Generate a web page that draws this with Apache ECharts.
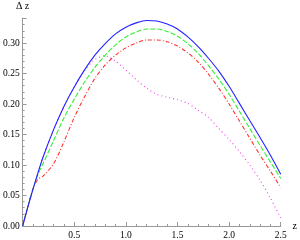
<!DOCTYPE html>
<html>
<head>
<meta charset="utf-8">
<script src="https://cdn.jsdelivr.net/npm/echarts@6/dist/echarts.min.js"></script>
<style>html,body{margin:0;padding:0;background:#fff}#c{width:300px;height:240px}</style>
</head>
<body>
<div id="c"></div>
<script>
var zVals   = [0, 0.05, 0.1, 0.15, 0.2, 0.3, 0.4, 0.5, 0.6, 0.7, 0.8, 0.9, 1.0, 1.1, 1.2, 1.3, 1.4, 1.5, 1.6, 1.7, 1.8, 1.9, 2.0, 2.1, 2.2, 2.3, 2.4, 2.5];
var blue    = [0, 0.031, 0.060, 0.088, 0.114, 0.158, 0.196, 0.228, 0.256, 0.280, 0.299, 0.315, 0.326, 0.333, 0.337, 0.336, 0.331, 0.323, 0.310, 0.294, 0.275, 0.254, 0.229, 0.201, 0.173, 0.145, 0.116, 0.085];
var green   = [0, 0.031, 0.060, 0.085, 0.103, 0.140, 0.177, 0.208, 0.236, 0.260, 0.280, 0.297, 0.310, 0.318, 0.323, 0.323, 0.319, 0.311, 0.299, 0.283, 0.263, 0.241, 0.216, 0.188, 0.160, 0.132, 0.105, 0.078];
var red     = [0, 0.031, 0.061, 0.077, 0.082, 0.102, 0.138, 0.178, 0.212, 0.242, 0.264, 0.280, 0.292, 0.300, 0.305, 0.305, 0.302, 0.295, 0.284, 0.269, 0.249, 0.226, 0.200, 0.172, 0.144, 0.116, 0.090, 0.063];
var magenta = [0, 0.031, 0.060, 0.088, 0.114, 0.158, 0.196, 0.228, 0.255, 0.273, 0.279, 0.270, 0.256, 0.240, 0.226, 0.216, 0.211, 0.207, 0.201, 0.190, 0.178, 0.160, 0.142, 0.122, 0.100, 0.075, 0.046, 0.013];
var xTickLabels = ['0.5', '1.0', '1.5', '2.0', '2.5'];
var yTickLabels = ['0.00', '0.05', '0.10', '0.15', '0.20', '0.25', '0.30'];

function pairs(arr){ return zVals.map(function(z,i){ return [z, arr[i]]; }); }
var font = 'Liberation Serif';
var chart = echarts.init(document.getElementById('c'), null, {renderer:'canvas'});
function mk(name, arr, color, type){
  return {name:name, type:'line', data:pairs(arr), showSymbol:false, smooth:0.3,
    lineStyle:{color:color, width:1.1, type:type}, animation:false, z:2};
}
chart.setOption({
  animation:false,
  grid:{left:19, right:12.5, top:18, bottom:13},
  xAxis:{type:'value', min:0, max:2.5, interval:0.5,
    name:'z', nameLocation:'end', nameGap:5,
    nameTextStyle:{fontFamily:font, fontSize:10, color:'#000', verticalAlign:'middle'},
    axisLine:{lineStyle:{color:'#999', width:1}},
    axisTick:{inside:true, length:4, lineStyle:{color:'#999'}},
    minorTick:{show:true, splitNumber:5, length:2, lineStyle:{color:'#999'}},
    splitLine:{show:false},
    axisLabel:{fontFamily:font, fontSize:9.5, color:'#000', margin:4,
      formatter:function(v){ var s=v.toFixed(1); return xTickLabels.indexOf(s)>=0 ? s : ''; }}
  },
  yAxis:{type:'value', min:0, max:0.341, interval:0.05,
    name:'Δ z', nameLocation:'end', nameGap:7,
    nameTextStyle:{fontFamily:font, fontSize:10, color:'#000', align:'center'},
    axisLine:{show:true, lineStyle:{color:'#999', width:1}},
    axisTick:{show:true, inside:true, length:4, lineStyle:{color:'#999'}},
    minorTick:{show:true, splitNumber:5, length:2, lineStyle:{color:'#999'}},
    splitLine:{show:false},
    axisLabel:{fontFamily:font, fontSize:9.5, color:'#000', margin:3, showMaxLabel:false,
      formatter:function(v){ var s=v.toFixed(2); return yTickLabels.indexOf(s)>=0 ? s : ''; }}
  },
  series:[
    mk('magenta', magenta, '#ff33ff', [1,3]),
    mk('red', red, '#ff3333', [4,2,1,2]),
    mk('green', green, '#33ee33', [5,2]),
    mk('blue', blue, '#2222ff', 'solid')
  ]
});
</script>
</body>
</html>
